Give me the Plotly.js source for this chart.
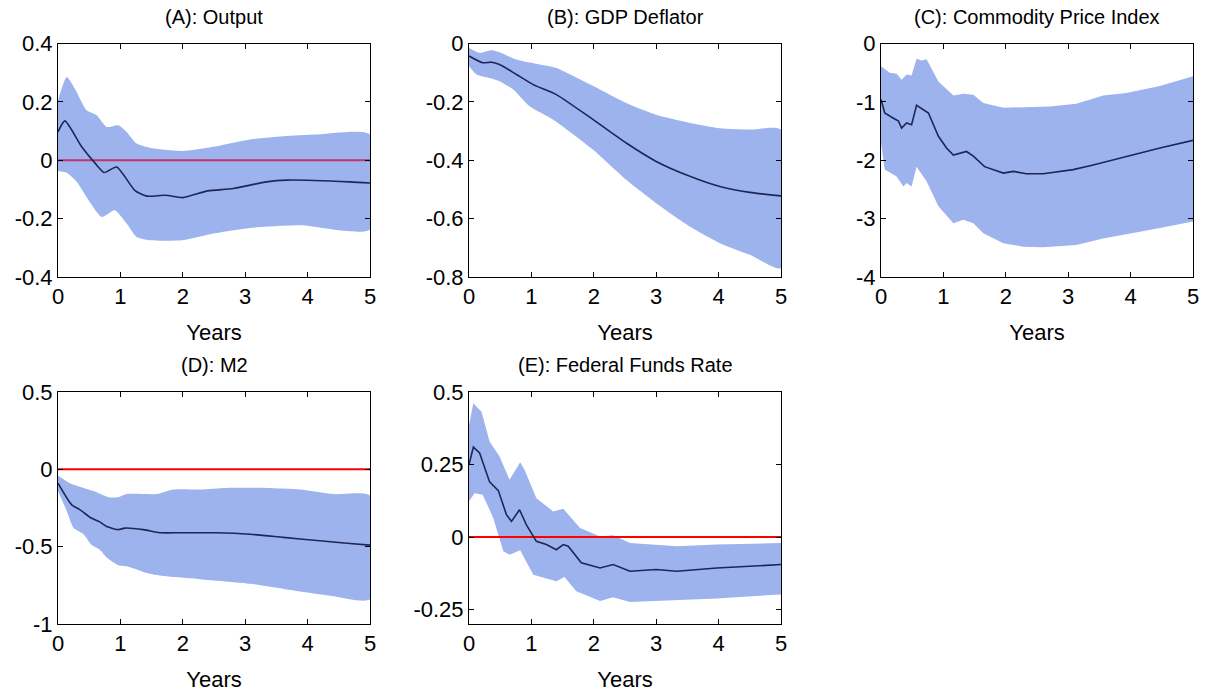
<!DOCTYPE html>
<html>
<head>
<meta charset="utf-8">
<script src="https://cdn.plot.ly/plotly-3.0.1.min.js"></script>
<style>html,body{margin:0;padding:0;background:#fff;}#chart{width:1217px;height:698px;}</style>
</head>
<body>
<div id="chart"></div>
<script>
// ---- Panel A: Output ----
const aMedX = [0,0.11,0.38,0.59,0.74,0.94,1.23,1.42,1.72,2.0,2.4,2.81,3.34,3.66,4.68,5];
const aMedY = [0.097,0.135,0.046,-0.009,-0.042,-0.023,-0.103,-0.123,-0.120,-0.128,-0.105,-0.097,-0.074,-0.068,-0.074,-0.078];
const aUpX = [0,0.14,0.27,0.46,0.62,0.78,0.97,1.10,1.26,1.47,2.0,2.54,3.08,3.61,4.15,5];
const aUpY = [0.205,0.285,0.245,0.171,0.154,0.114,0.120,0.097,0.057,0.043,0.032,0.048,0.071,0.082,0.088,0.088];
const aLoX = [0,0.14,0.30,0.49,0.70,0.91,1.10,1.26,1.47,2.0,2.49,3.08,3.88,5];
const aLoY = [-0.037,-0.043,-0.074,-0.137,-0.194,-0.171,-0.217,-0.263,-0.274,-0.274,-0.251,-0.232,-0.223,-0.237];

// ---- Panel B: GDP Deflator ----
const bMedX = [0,0.22,0.36,0.49,0.76,1.03,1.40,1.99,2.52,3.0,3.54,4.02,4.50,5];
const bMedY = [-0.043,-0.066,-0.064,-0.072,-0.106,-0.141,-0.175,-0.261,-0.341,-0.404,-0.455,-0.490,-0.510,-0.522];
const bUpX = [0,0.17,0.36,0.49,0.76,1.13,1.40,1.99,2.52,3.0,3.54,4.02,4.5,5];
const bUpY = [-0.015,-0.032,-0.023,-0.030,-0.055,-0.072,-0.084,-0.146,-0.204,-0.244,-0.272,-0.290,-0.295,-0.295];
const bLoX = [0,0.12,0.33,0.49,0.71,0.97,1.35,1.99,2.52,3.0,3.54,4.02,4.5,5];
const bLoY = [-0.078,-0.106,-0.118,-0.129,-0.158,-0.215,-0.261,-0.364,-0.467,-0.547,-0.627,-0.684,-0.724,-0.770];

// ---- Panel C: Commodity Price Index ----
const cMedX = [0,0.06,0.2,0.28,0.33,0.41,0.49,0.57,0.76,0.92,1.05,1.16,1.37,1.48,1.66,1.96,2.12,2.33,2.6,3.08,3.4,3.93,4.47,5];
const cMedY = [-0.96,-1.19,-1.28,-1.33,-1.45,-1.36,-1.39,-1.06,-1.19,-1.59,-1.79,-1.91,-1.85,-1.93,-2.11,-2.22,-2.19,-2.23,-2.23,-2.16,-2.08,-1.93,-1.79,-1.66];
const cUpX = [0,0.14,0.25,0.33,0.41,0.49,0.57,0.65,0.73,0.92,1.16,1.32,1.48,1.64,1.96,2.33,2.71,3.13,3.56,3.93,4.47,5];
const cUpY = [-0.39,-0.50,-0.52,-0.62,-0.53,-0.55,-0.26,-0.29,-0.27,-0.65,-0.89,-0.86,-0.88,-1.02,-1.10,-1.09,-1.08,-1.03,-0.89,-0.85,-0.73,-0.56];
const cLoX = [0,0.06,0.25,0.36,0.41,0.49,0.57,0.73,0.92,1.16,1.32,1.48,1.64,1.96,2.28,2.6,3.13,3.56,3.99,4.47,5];
const cLoY = [-1.70,-2.16,-2.28,-2.45,-2.39,-2.45,-2.11,-2.36,-2.79,-3.08,-3.02,-3.08,-3.25,-3.42,-3.48,-3.49,-3.45,-3.34,-3.25,-3.16,-3.05];

// ---- Panel D: M2 ----
const dMedX = [0,0.22,0.35,0.51,0.67,0.78,0.97,1.07,1.37,1.63,1.98,2.54,3.08,3.61,4.15,4.68,5];
const dMedY = [-0.09,-0.23,-0.26,-0.31,-0.34,-0.37,-0.39,-0.38,-0.39,-0.41,-0.41,-0.41,-0.42,-0.44,-0.46,-0.48,-0.49];
const dUpX = [0,0.19,0.41,0.57,0.81,0.97,1.10,1.58,1.85,2.28,2.7,3.34,3.88,4.41,5];
const dUpY = [-0.04,-0.09,-0.12,-0.14,-0.18,-0.18,-0.16,-0.16,-0.13,-0.13,-0.12,-0.12,-0.13,-0.16,-0.17];
const dLoX = [0,0.14,0.25,0.41,0.54,0.67,0.78,0.97,1.13,1.42,1.69,2.28,3.08,3.88,4.41,5];
const dLoY = [-0.14,-0.27,-0.38,-0.42,-0.49,-0.52,-0.57,-0.62,-0.63,-0.67,-0.69,-0.71,-0.74,-0.79,-0.82,-0.84];

// ---- Panel E: Federal Funds Rate ----
const eMedX = [0,0.07,0.17,0.33,0.47,0.6,0.68,0.81,0.92,1.08,1.24,1.4,1.51,1.59,1.80,2.1,2.31,2.58,3.0,3.33,3.97,4.5,5];
const eMedY = [0.25,0.31,0.29,0.19,0.16,0.077,0.054,0.094,0.042,-0.015,-0.026,-0.044,-0.026,-0.032,-0.089,-0.107,-0.095,-0.118,-0.112,-0.118,-0.107,-0.101,-0.095];
const eUpX = [0,0.07,0.2,0.33,0.49,0.65,0.82,0.89,1.08,1.35,1.51,1.78,2.1,2.31,2.58,3.0,3.33,3.97,5];
const eUpY = [0.386,0.461,0.432,0.329,0.278,0.197,0.258,0.232,0.134,0.088,0.097,0.031,0.002,0.006,-0.021,-0.026,-0.032,-0.026,-0.021];
const eLoX = [0,0.09,0.22,0.39,0.55,0.65,0.82,1.03,1.19,1.40,1.53,1.72,2.1,2.31,2.58,3.17,3.97,5];
const eLoY = [0.123,0.151,0.146,0.065,-0.049,-0.061,-0.046,-0.130,-0.141,-0.153,-0.138,-0.187,-0.221,-0.208,-0.224,-0.219,-0.212,-0.198];

// zero reference line
const zeroX = [0,5];
const zeroY = [0,0];

const titles = ['(A): Output','(B): GDP Deflator','(C): Commodity Price Index','(D): M2','(E): Federal Funds Rate'];
const xTicks = [0,1,2,3,4,5];
const yTickVals = [[0.4,0.2,0,-0.2,-0.4],[0,-0.2,-0.4,-0.6,-0.8],[0,-1,-2,-3,-4],[0.5,0,-0.5,-1],[0.5,0.25,0,-0.25]];
const yTickText = [['0.4','0.2','0','-0.2','-0.4'],['0','-0.2','-0.4','-0.6','-0.8'],['0','-1','-2','-3','-4'],['0.5','0','-0.5','-1'],['0.5','0.25','0','-0.25']];
const yRanges = [[-0.4,0.4],[-0.8,0],[-4,0],[-1,0.5],[-0.3,0.5]];

const panels = [
  {medX:aMedX,medY:aMedY,upX:aUpX,upY:aUpY,loX:aLoX,loY:aLoY,zero:true,zeroColor:'#c4336a',smooth:true},
  {medX:bMedX,medY:bMedY,upX:bUpX,upY:bUpY,loX:bLoX,loY:bLoY,zero:false,smooth:true},
  {medX:cMedX,medY:cMedY,upX:cUpX,upY:cUpY,loX:cLoX,loY:cLoY,zero:false,smooth:false},
  {medX:dMedX,medY:dMedY,upX:dUpX,upY:dUpY,loX:dLoX,loY:dLoY,zero:true,zeroColor:'#ff0000',smooth:true},
  {medX:eMedX,medY:eMedY,upX:eUpX,upY:eUpY,loX:eLoX,loY:eLoY,zero:true,zeroColor:'#ff0000',smooth:false}
];

const W = 1217, H = 698;
const xDom = [[58,370],[469,781],[881,1193],[58,370],[469,781]];
const yDom = [[43.5,277],[43.5,277],[43.5,277],[392,624],[392,624]];

const traces = [];
const layout = {
  width: W, height: H,
  margin: {l:0,r:0,t:0,b:0},
  paper_bgcolor: '#ffffff',
  plot_bgcolor: '#ffffff',
  showlegend: false,
  font: {family: '"Liberation Sans", Arial, Helvetica, sans-serif', color: '#000', size: 20},
  annotations: []
};

panels.forEach((p, i) => {
  const n = i + 1;
  const xa = 'x' + (n === 1 ? '' : n);
  const ya = 'y' + (n === 1 ? '' : n);
  const shape = p.smooth ? 'spline' : 'linear';
  traces.push({
    x: p.upX.concat(p.loX.slice().reverse()),
    y: p.upY.concat(p.loY.slice().reverse()),
    xaxis: xa, yaxis: ya, type: 'scatter', mode: 'lines',
    fill: 'toself', fillcolor: '#9db3ee',
    line: {width: 0, color: 'rgba(0,0,0,0)', shape: shape, smoothing: 0.6}, hoverinfo: 'skip'
  });
  if (p.zero) traces.push({x: zeroX, y: zeroY, xaxis: xa, yaxis: ya, mode: 'lines', type: 'scatter',
    line: {color: p.zeroColor, width: 2}, hoverinfo: 'skip'});
  traces.push({x: p.medX, y: p.medY, xaxis: xa, yaxis: ya, type: 'scatter', mode: 'lines',
    line: {color: '#1c2755', width: 1.6, shape: shape, smoothing: 0.6}});

  const xk = 'xaxis' + (n === 1 ? '' : n);
  const yk = 'yaxis' + (n === 1 ? '' : n);
  layout[xk] = {
    domain: [xDom[i][0]/W, xDom[i][1]/W], anchor: ya,
    range: [0,5], tickvals: xTicks, ticktext: xTicks.map(String),
    showline: true, linecolor: '#000', linewidth: 1, mirror: 'ticks',
    ticks: 'inside', ticklen: 5, tickcolor: '#000', showgrid: false, zeroline: false,
    tickfont: {size: 22}, fixedrange: true,
    title: {text: 'Years', font: {size: 22}, standoff: 16}
  };
  layout[yk] = {
    domain: [1 - yDom[i][1]/H, 1 - yDom[i][0]/H], anchor: xa,
    range: yRanges[i], tickvals: yTickVals[i], ticktext: yTickText[i],
    showline: true, linecolor: '#000', linewidth: 1, mirror: 'ticks',
    ticks: 'inside', ticklen: 5, tickcolor: '#000', showgrid: false, zeroline: false,
    tickfont: {size: 22}, fixedrange: true
  };
  layout.annotations.push({
    text: titles[i], xref: 'paper', yref: 'paper',
    x: (xDom[i][0] + xDom[i][1]) / 2 / W, y: 1 - yDom[i][0]/H,
    xanchor: 'center', yanchor: 'bottom', yshift: 14, showarrow: false,
    font: {size: 20, color: '#000'}
  });
});

Plotly.newPlot('chart', traces, layout, {displayModeBar: false, staticPlot: true});
</script>
</body>
</html>
